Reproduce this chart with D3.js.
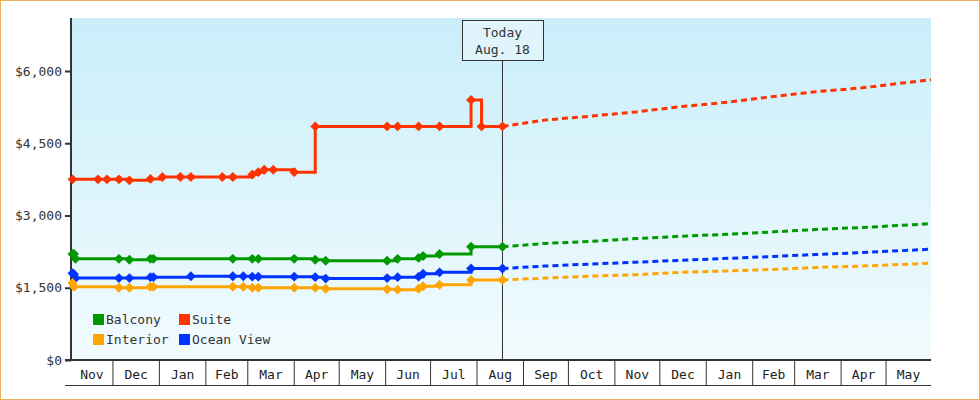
<html>
<head>
<meta charset="UTF-8">
<style>
  body { margin: 0; background: #fff; }
  svg { font-family: "DejaVu Sans Mono", monospace; }
</style>
</head>
<body>
<svg width="980" height="400"></svg>
<script src="https://d3js.org/d3.v7.min.js"></script>
<script>
(function () {
    'use strict';

    var seriesNames = ["Balcony", "Suite", "Interior", "Ocean View"];
    var seriesColors = ["#009900", "#ff3300", "#ffa500", "#0033ff"];

    // history: [date, price] (step-after)
    var balcony = [["2012-11-04", 2200], ["2012-11-05", 2200], ["2012-11-06", 2100], ["2012-12-05", 2100], ["2012-12-12", 2080],
        ["2012-12-26", 2100], ["2012-12-28", 2100], ["2013-02-19", 2100], ["2013-03-04", 2100], ["2013-03-08", 2100],
        ["2013-04-01", 2100], ["2013-04-15", 2080], ["2013-04-22", 2060], ["2013-06-02", 2060], ["2013-06-09", 2100],
        ["2013-06-23", 2120], ["2013-06-26", 2160], ["2013-07-07", 2200], ["2013-07-28", 2350], ["2013-08-18", 2350]];
    var suite = [["2012-11-04", 3750], ["2012-11-21", 3750], ["2012-11-27", 3750], ["2012-12-05", 3750], ["2012-12-12", 3730],
        ["2012-12-26", 3760], ["2013-01-03", 3800], ["2013-01-15", 3800], ["2013-01-22", 3800], ["2013-02-12", 3800],
        ["2013-02-19", 3800], ["2013-03-04", 3850], ["2013-03-08", 3900], ["2013-03-12", 3950], ["2013-03-18", 3950],
        ["2013-04-01", 3900], ["2013-04-15", 4850], ["2013-06-02", 4850], ["2013-06-09", 4850], ["2013-06-23", 4850],
        ["2013-07-07", 4850], ["2013-07-28", 5400], ["2013-08-04", 4850], ["2013-08-18", 4850]];
    var interior = [["2012-11-04", 1600], ["2012-11-05", 1520], ["2012-12-05", 1500], ["2012-12-12", 1500], ["2012-12-26", 1520],
        ["2012-12-28", 1520], ["2013-02-19", 1520], ["2013-02-26", 1520], ["2013-03-04", 1500], ["2013-03-08", 1500],
        ["2013-04-01", 1500], ["2013-04-15", 1500], ["2013-04-22", 1480], ["2013-06-02", 1470], ["2013-06-09", 1460],
        ["2013-06-23", 1480], ["2013-06-26", 1530], ["2013-07-07", 1560], ["2013-07-28", 1660], ["2013-08-18", 1660]];
    var oceanView = [["2012-11-04", 1800], ["2012-11-05", 1780], ["2012-11-06", 1700], ["2012-12-05", 1700], ["2012-12-12", 1700],
        ["2012-12-26", 1720], ["2012-12-28", 1720], ["2013-01-22", 1740], ["2013-02-19", 1740], ["2013-02-26", 1740],
        ["2013-03-04", 1730], ["2013-03-08", 1730], ["2013-04-01", 1730], ["2013-04-15", 1720], ["2013-04-22", 1690],
        ["2013-06-02", 1700], ["2013-06-09", 1720], ["2013-06-23", 1730], ["2013-06-26", 1790], ["2013-07-07", 1820],
        ["2013-07-28", 1900], ["2013-08-18", 1900]];

    // forecast (dashed)
    var forecastDates = ["2013-08-18", "2013-09-15", "2013-10-15", "2013-11-15", "2013-12-15", "2014-01-15",
        "2014-02-15", "2014-03-15", "2014-04-15", "2014-05-31"];
    var balconyForecast = [2350, 2420, 2460, 2520, 2570, 2610, 2660, 2710, 2750, 2830];
    var suiteForecast = [4850, 4980, 5060, 5150, 5260, 5350, 5470, 5570, 5650, 5820];
    var interiorForecast = [1660, 1700, 1740, 1770, 1820, 1850, 1880, 1920, 1950, 2010];
    var oceanViewForecast = [1900, 1950, 1990, 2030, 2070, 2110, 2150, 2190, 2230, 2300];

    var yTicks = [0, 1500, 3000, 4500, 6000];
    var today = "2013-08-18";
    var todayLabel = ["Today", "Aug. 18"];

    var history = [balcony, suite, interior, oceanView];
    var forecast = [balconyForecast, suiteForecast, interiorForecast, oceanViewForecast];

    var parse = d3.timeParse("%Y-%m-%d");
    var left = 71, right = 931, top = 18, bottom = 360;

    var svg = d3.select("svg");

    svg.append("rect").attr("x", 0.5).attr("y", 0.5).attr("width", 979).attr("height", 399)
        .attr("fill", "#fff").attr("stroke", "#f0b060");

    var grad = svg.append("defs").append("linearGradient").attr("id", "bg")
        .attr("x1", 0).attr("y1", 0).attr("x2", 0).attr("y2", 1);
    grad.append("stop").attr("offset", "0%").attr("stop-color", "#c9eefa");
    grad.append("stop").attr("offset", "100%").attr("stop-color", "#f2fbfe");

    var x = d3.scaleTime().domain([parse("2012-11-03"), parse("2014-05-31")]).range([left, right]);
    var y = d3.scaleLinear().domain([0, 7100]).range([bottom, top]);

    svg.append("rect").attr("x", left).attr("y", top).attr("width", right - left).attr("height", bottom - top)
        .attr("fill", "url(#bg)");

    // y axis
    var yAxis = svg.append("g").attr("transform", "translate(" + left + ",0)")
        .call(d3.axisLeft(y).tickValues(yTicks).tickSize(6).tickFormat(function (d) { return "$" + d3.format(",")(d); }));
    yAxis.select(".domain").remove();
    yAxis.selectAll("line").attr("stroke", "#333").attr("stroke-width", 2);
    yAxis.selectAll("text").attr("font-size", 13).attr("fill", "#333").attr("font-family", "DejaVu Sans Mono");
    svg.append("line").attr("x1", left).attr("x2", left).attr("y1", top).attr("y2", bottom + 1)
        .attr("stroke", "#333").attr("stroke-width", 2);
    svg.append("line").attr("x1", left - 6).attr("x2", right).attr("y1", bottom).attr("y2", bottom)
        .attr("stroke", "#333").attr("stroke-width", 2);

    // x month boxes
    var months = d3.timeMonth.range(d3.timeMonth.floor(x.domain()[0]), x.domain()[1]);
    var xg = svg.append("g");
    months.forEach(function (m) {
        var x0 = Math.max(left, x(m));
        var x1 = Math.min(right, x(d3.timeMonth.offset(m, 1)));
        if (x(m) > left) {
            xg.append("line").attr("x1", x0).attr("x2", x0).attr("y1", bottom).attr("y2", 385).attr("stroke", "#333");
        }
        xg.append("text").attr("x", (x0 + x1) / 2).attr("y", 379).attr("text-anchor", "middle")
            .attr("font-size", 13).attr("fill", "#222").text(d3.timeFormat("%b")(m));
    });
    xg.append("line").attr("x1", left - 6).attr("x2", right).attr("y1", 385.5).attr("y2", 385.5).attr("stroke", "#333");

    // today line
    var tx = x(parse(today));
    svg.append("line").attr("x1", tx).attr("x2", tx).attr("y1", 60).attr("y2", bottom).attr("stroke", "#333");
    svg.append("rect").attr("x", tx - 40).attr("y", 20.5).attr("width", 81).attr("height", 40)
        .attr("fill", "#dff4fb").attr("stroke", "#333");
    todayLabel.forEach(function (t, i) {
        svg.append("text").attr("x", tx).attr("y", 37 + i * 17).attr("text-anchor", "middle")
            .attr("font-size", 13).attr("fill", "#333").text(t);
    });

    var stepLine = d3.line().curve(d3.curveStepAfter)
        .x(function (d) { return x(parse(d[0])); }).y(function (d) { return y(d[1]); });
    var plainLine = d3.line().x(function (d) { return x(d[0]); }).y(function (d) { return y(d[1]); });

    var order = [1, 0, 3, 2];
    order.forEach(function (i) {
        var c = seriesColors[i];
        var fdata = forecastDates.map(function (d, j) { return [parse(d), forecast[i][j]]; });
        svg.append("path").attr("d", plainLine(fdata)).attr("fill", "none").attr("stroke", c)
            .attr("stroke-width", 3).attr("stroke-dasharray", "6,4");
        svg.append("path").attr("d", stepLine(history[i])).attr("fill", "none").attr("stroke", c)
            .attr("stroke-width", 3);
        svg.append("g").selectAll("rect").data(history[i]).enter().append("rect")
            .attr("x", -3.5).attr("y", -3.5).attr("width", 7).attr("height", 7).attr("fill", c)
            .attr("transform", function (d) { return "translate(" + x(parse(d[0])) + "," + y(d[1]) + ") rotate(45)"; });
    });

    // legend
    var leg = svg.append("g");
    seriesNames.forEach(function (n, i) {
        var lx = 93 + (i % 2) * 86, ly = 314 + Math.floor(i / 2) * 20;
        leg.append("rect").attr("x", lx).attr("y", ly).attr("width", 11).attr("height", 11).attr("fill", seriesColors[i]);
        leg.append("text").attr("x", lx + 13).attr("y", ly + 10).attr("font-size", 13).attr("fill", "#333").text(n);
    });
})();
</script>
</body>
</html>
